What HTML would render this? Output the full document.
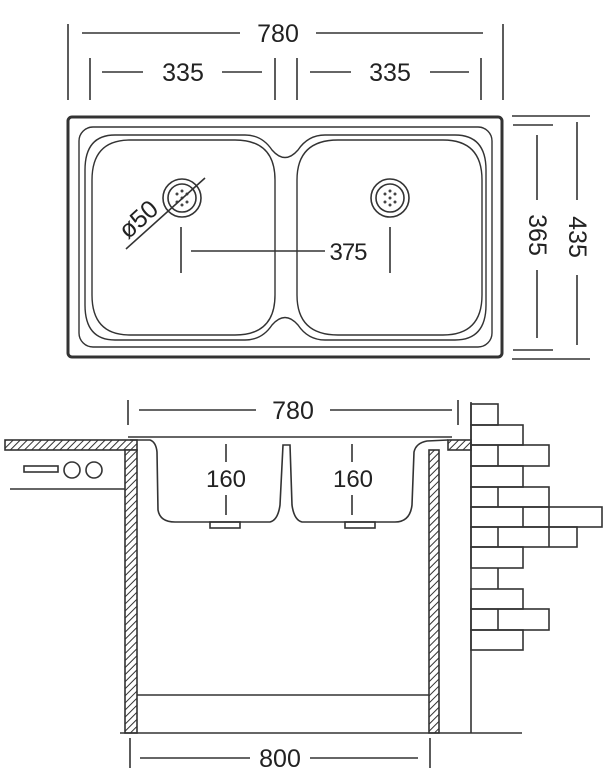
<!DOCTYPE html>
<html><head><meta charset="utf-8"><style>html,body{margin:0;padding:0;background:#fff}svg{display:block}</style></head>
<body>
<svg width="612" height="779" viewBox="0 0 612 779" xmlns="http://www.w3.org/2000/svg" font-family="Liberation Sans, sans-serif" fill="none" stroke="#333" stroke-width="1.6">
<defs>
<pattern id="h" width="5" height="5" patternUnits="userSpaceOnUse" patternTransform="rotate(45)"><rect width="5" height="5" fill="#fff" stroke="none"/><line x1="0" y1="0" x2="0" y2="5" stroke="#333" stroke-width="2"/></pattern>
</defs>
<line x1="68" y1="24" x2="68" y2="100"/><line x1="503" y1="24" x2="503" y2="100"/>
<line x1="82" y1="33" x2="240" y2="33"/><line x1="316" y1="33" x2="483" y2="33"/>
<text x="278" y="42" font-size="25" fill="#222" stroke="none" text-anchor="middle">780</text>
<line x1="90" y1="58" x2="90" y2="100"/><line x1="275" y1="58" x2="275" y2="100"/><line x1="297" y1="58" x2="297" y2="100"/><line x1="481" y1="58" x2="481" y2="100"/>
<line x1="102" y1="72" x2="143" y2="72"/><line x1="222" y1="72" x2="262" y2="72"/>
<line x1="310" y1="72" x2="351" y2="72"/><line x1="430" y1="72" x2="469" y2="72"/>
<text x="183" y="81" font-size="25" fill="#222" stroke="none" text-anchor="middle">335</text>
<text x="390" y="81" font-size="25" fill="#222" stroke="none" text-anchor="middle">335</text>
<rect x="68" y="117" width="434" height="240" rx="4" stroke-width="3"/>
<rect x="79" y="127" width="413" height="220" rx="14" stroke-width="1.4"/>
<path d="M115,135 L245,135 Q262,135 272,150 Q285,165 298,150 Q308,135 325,135 L455,135 Q486,135 486,170 L486,305 Q486,340 455,340 L325,340 Q308,340 298,325 Q285,310 272,325 Q262,340 245,340 L115,340 Q85,340 85,305 L85,170 Q85,135 115,135 Z" stroke-width="1.4"/>
<path d="M130,140 L235,140 Q275,140 275,180 L275,295 Q275,335 235,335 L130,335 Q92,335 92,295 L92,180 Q92,140 130,140 Z" stroke-width="1.4"/>
<path d="M338,140 L443,140 Q482,140 482,180 L482,295 Q482,335 443,335 L338,335 Q297,335 297,295 L297,180 Q297,140 338,140 Z" stroke-width="1.4"/>
<circle cx="182" cy="198" r="19"/><circle cx="182" cy="198" r="14"/>
<circle cx="390" cy="198" r="19"/><circle cx="390" cy="198" r="14"/>
<g fill="#444" stroke="none"><circle cx="182" cy="198" r="1.5"/><circle cx="177" cy="194" r="1.5"/><circle cx="187" cy="194" r="1.5"/><circle cx="177" cy="202" r="1.5"/><circle cx="187" cy="202" r="1.5"/><circle cx="182" cy="191" r="1.5"/><circle cx="182" cy="205" r="1.5"/>
<circle cx="390" cy="198" r="1.5"/><circle cx="385" cy="194" r="1.5"/><circle cx="395" cy="194" r="1.5"/><circle cx="385" cy="202" r="1.5"/><circle cx="395" cy="202" r="1.5"/><circle cx="390" cy="191" r="1.5"/><circle cx="390" cy="205" r="1.5"/></g>
<line x1="126" y1="249" x2="205" y2="178"/>
<text transform="translate(128,240) rotate(-42)" font-size="25" fill="#222" stroke="none">ø50</text>
<line x1="181" y1="227" x2="181" y2="273"/><line x1="390" y1="227" x2="390" y2="273"/>
<line x1="191" y1="251" x2="325" y2="251"/>
<text x="348" y="260" font-size="24" fill="#222" stroke="none" text-anchor="middle" letter-spacing="-1">375</text>
<line x1="512" y1="116" x2="590" y2="116"/><line x1="512" y1="359" x2="590" y2="359"/>
<line x1="513" y1="125" x2="553" y2="125"/><line x1="513" y1="350" x2="553" y2="350"/>
<line x1="537" y1="135" x2="537" y2="200"/><line x1="537" y1="270" x2="537" y2="338"/>
<line x1="577" y1="122" x2="577" y2="200"/><line x1="577" y1="275" x2="577" y2="345"/>
<text transform="translate(529,235) rotate(90)" font-size="25" fill="#222" stroke="none" text-anchor="middle">365</text>
<text transform="translate(569,237) rotate(90)" font-size="25" fill="#222" stroke="none" text-anchor="middle">435</text>
<line x1="128" y1="400" x2="128" y2="425"/><line x1="458" y1="400" x2="458" y2="425"/>
<line x1="139" y1="410" x2="256" y2="410"/><line x1="330" y1="410" x2="452" y2="410"/>
<text x="293" y="419" font-size="25" fill="#222" stroke="none" text-anchor="middle">780</text>
<rect x="5" y="440" width="132" height="10" fill="url(#h)"/>
<rect x="448" y="440" width="23" height="10" fill="url(#h)"/>
<rect x="125" y="450" width="12" height="283" fill="url(#h)"/>
<rect x="429" y="450" width="10" height="283" fill="url(#h)"/>
<line x1="10" y1="489" x2="125" y2="489"/>
<rect x="24" y="466" width="34" height="6"/>
<circle cx="72" cy="470" r="8"/><circle cx="94" cy="470" r="8"/>
<line x1="137" y1="695" x2="429" y2="695"/>
<line x1="120" y1="733" x2="522" y2="733"/>
<line x1="471" y1="402" x2="471" y2="733"/>
<path d="M128,437 L452,437 M130,440 L150,440 Q156,442 157,452 L158,510 Q160,522 175,522 L270,522 Q278,520 280,505 L283,445 L290,445 L292,505 Q294,520 302,522 L395,522 Q410,522 412,505 L414,452 Q416,443 427,441 L448,440"/>
<rect x="210" y="522" width="30" height="6"/><rect x="345" y="522" width="30" height="6"/>
<line x1="226" y1="444" x2="226" y2="462"/><line x1="226" y1="495" x2="226" y2="515"/>
<line x1="352" y1="444" x2="352" y2="462"/><line x1="352" y1="495" x2="352" y2="515"/>
<text x="226" y="487" font-size="24" fill="#222" stroke="none" text-anchor="middle">160</text>
<text x="353" y="487" font-size="24" fill="#222" stroke="none" text-anchor="middle">160</text>
<g stroke-width="1.6">
<rect x="471" y="404" width="27" height="21"/>
<rect x="471" y="425" width="52" height="20"/>
<rect x="471" y="445" width="78" height="21"/><line x1="498" y1="445" x2="498" y2="466"/>
<rect x="471" y="466" width="52" height="21"/>
<rect x="471" y="487" width="78" height="20"/><line x1="498" y1="487" x2="498" y2="507"/>
<rect x="471" y="507" width="131" height="20"/><line x1="523" y1="507" x2="523" y2="527"/><line x1="549" y1="507" x2="549" y2="527"/>
<rect x="471" y="527" width="106" height="20"/><line x1="498" y1="527" x2="498" y2="547"/><line x1="549" y1="527" x2="549" y2="547"/>
<rect x="471" y="547" width="52" height="21"/>
<line x1="498" y1="568" x2="498" y2="589"/>
<rect x="471" y="589" width="52" height="20"/>
<rect x="471" y="609" width="78" height="21"/><line x1="498" y1="609" x2="498" y2="630"/>
<rect x="471" y="630" width="52" height="20"/>
</g>
<line x1="130" y1="738" x2="130" y2="768"/><line x1="430" y1="738" x2="430" y2="768"/>
<line x1="140" y1="758" x2="250" y2="758"/><line x1="310" y1="758" x2="418" y2="758"/>
<text x="280" y="767" font-size="25" fill="#222" stroke="none" text-anchor="middle">800</text>
</svg>
</body></html>
